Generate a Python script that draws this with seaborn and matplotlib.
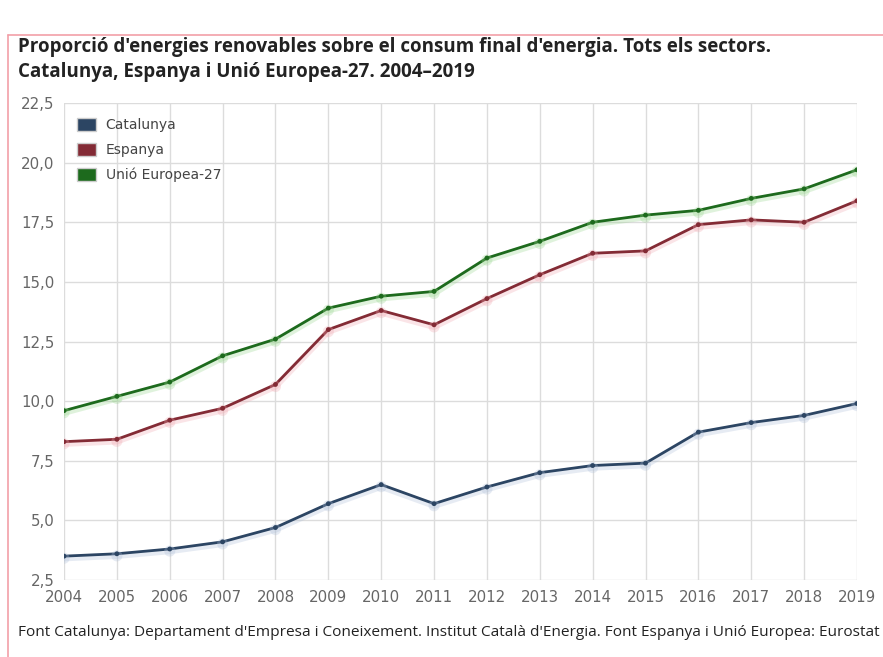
import pandas as pd
import numpy as np
import matplotlib.pyplot as plt
import matplotlib.patheffects as pe
from matplotlib.lines import Line2D
from matplotlib.patches import Patch
from matplotlib.ticker import FuncFormatter
import seaborn as sns

years = list(range(2004, 2020))
catalunya = [3.5, 3.6, 3.8, 4.1, 4.7, 5.7, 6.5, 5.7, 6.4, 7.0, 7.3, 7.4, 8.7, 9.1, 9.4, 9.9]
espanya = [8.3, 8.4, 9.2, 9.7, 10.7, 13.0, 13.8, 13.2, 14.3, 15.3, 16.2, 16.3, 17.4, 17.6, 17.5, 18.4]
ue27 = [9.6, 10.2, 10.8, 11.9, 12.6, 13.9, 14.4, 14.6, 16.0, 16.7, 17.5, 17.8, 18.0, 18.5, 18.9, 19.7]

series_names = ["Catalunya", "Espanya", "Unió Europea-27"]
colors = {"Catalunya": "#2c4563", "Espanya": "#832b35", "Unió Europea-27": "#1d6a1d"}
glow = {"Catalunya": "#aebfd8", "Espanya": "#f0a8b0", "Unió Europea-27": "#98d68e"}

df = pd.DataFrame({
    "year": years * 3,
    "value": catalunya + espanya + ue27,
    "serie": [s for s in series_names for _ in years],
})

sns.set_style("white")
plt.rcParams['font.family'] = ['Open Sans', 'DejaVu Sans']

fig = plt.figure(figsize=(8.83, 6.57), dpi=100)
ax = fig.add_axes([0.0725, 0.1172, 0.898, 0.726])

sns.lineplot(data=df, x="year", y="value", hue="serie", palette=colors,
             marker="o", markersize=3.5, markeredgewidth=0, linewidth=2,
             legend=False, ax=ax)

# soft shadow under each line
for line in ax.get_lines():
    hexc = plt.matplotlib.colors.to_hex(line.get_color())
    for name, c in colors.items():
        if hexc == c:
            line.set_path_effects([pe.SimpleLineShadow(offset=(0, -1.5), shadow_color=glow[name],
                                                       alpha=0.3, linewidth=4.5),
                                   pe.Normal()])

ax.set_xlim(2004, 2019)
ax.set_ylim(2.5, 22.5)
ax.set_xticks(years)
ax.set_yticks(np.arange(2.5, 22.6, 2.5))
ax.yaxis.set_major_formatter(FuncFormatter(lambda v, p: f"{v:.1f}".replace(".", ",")))
ax.grid(True, color="#dcdcdc", linewidth=1)
for s in ax.spines.values():
    s.set_visible(False)
ax.tick_params(axis="both", length=0, labelsize=10.8, colors="#666666")
ax.tick_params(axis="x", pad=7)
ax.tick_params(axis="y", pad=7)
for lbl in ax.get_xticklabels() + ax.get_yticklabels():
    lbl.set_family("DejaVu Sans")
ax.set_xlabel("")
ax.set_ylabel("")

handles = [Patch(facecolor=colors[n], edgecolor="#cccccc", label=n) for n in series_names]
leg = ax.legend(handles=handles, loc="upper left", bbox_to_anchor=(0.0, 0.995),
                frameon=False, handlelength=1.4, handleheight=1.1,
                labelspacing=0.75, handletextpad=0.7,
                prop={"family": "DejaVu Sans", "size": 10})
for t in leg.get_texts():
    t.set_color("#444444")

fig.text(18 / 883, 1 - 47 / 657, "Proporció d'energies renovables sobre el consum final d'energia. Tots els sectors.",
         fontsize=13.5, fontweight="bold", color="#222222", va="center")
fig.text(18 / 883, 1 - 72 / 657, "Catalunya, Espanya i Unió Europea-27. 2004–2019",
         fontsize=13.5, fontweight="bold", color="#222222", va="center")
fig.text(18 / 883, 1 - 632 / 657,
         "Font Catalunya: Departament d'Empresa i Coneixement. Institut Català d'Energia. Font Espanya i Unió Europea: Eurostat",
         fontsize=11.1, color="#222222", va="center")

# frame border
fig.add_artist(Line2D([8 / 883, 8 / 883], [0, 1 - 35 / 657], color="#f2a0a8", linewidth=1.2))
fig.add_artist(Line2D([8 / 883, 1], [1 - 35 / 657, 1 - 35 / 657], color="#f2a0a8", linewidth=1.2))

fig.savefig("out.png", dpi=100)
